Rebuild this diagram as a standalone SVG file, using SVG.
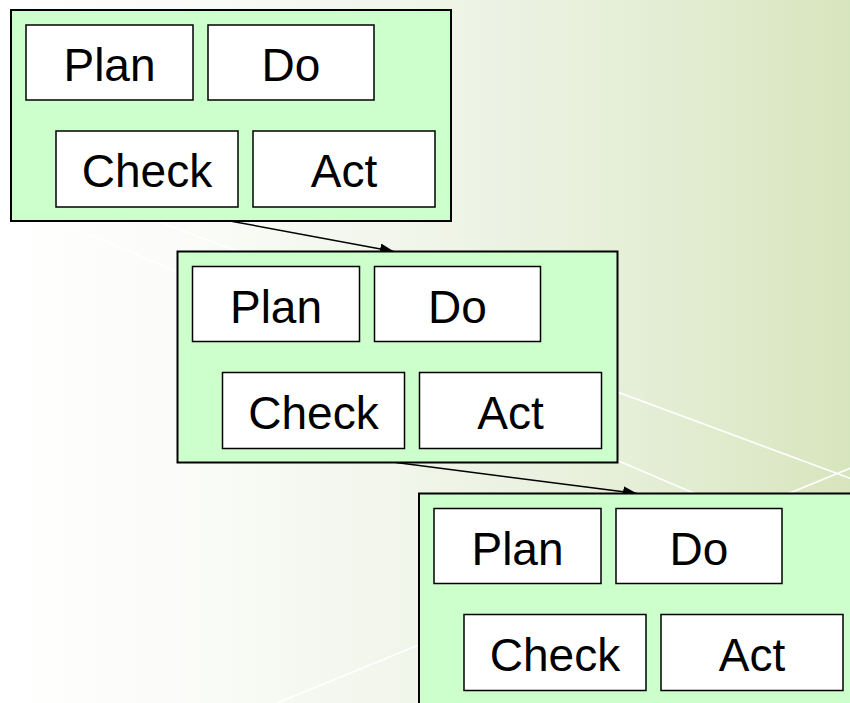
<svg xmlns="http://www.w3.org/2000/svg" width="850" height="703" viewBox="0 0 850 703">
  <defs>
    <linearGradient id="bg" x1="0" y1="0" x2="1" y2="0">
      <stop offset="0" stop-color="#ffffff"/>
      <stop offset="0.2" stop-color="#fbfcf9"/>
      <stop offset="0.45" stop-color="#f2f6ec"/>
      <stop offset="0.65" stop-color="#eaf1df"/>
      <stop offset="0.85" stop-color="#e0ebcd"/>
      <stop offset="1" stop-color="#d7e5bd"/>
    </linearGradient>
    <marker id="arrowhead" markerUnits="userSpaceOnUse" markerWidth="15" markerHeight="11" refX="14" refY="5.5" orient="auto">
      <path d="M0,0 L14,5.5 L0,11 z" fill="#000"/>
    </marker>
    <style>
      .cycle { fill: #ccffcc; stroke: #000; stroke-width: 2; }
      .step { fill: #ffffff; stroke: #000; stroke-width: 1.5; }
      .label { font-family: "Liberation Sans", Arial, sans-serif; font-size: 46px; fill: #000; text-anchor: middle; }
      .deco { stroke: #ffffff; stroke-width: 1.6; fill: none; }
      .link { stroke: #000; stroke-width: 1.5; fill: none; marker-end: url(#arrowhead); }
    </style>
    <!-- one PDCA cycle: outer panel with four step boxes -->
    <g id="pdca">
      <rect class="cycle" x="0" y="0" width="440" height="211"/>
      <g class="plan">
        <rect class="step" x="15" y="15" width="167" height="75"/>
        <text class="label" x="98.5" y="71">Plan</text>
      </g>
      <g class="do">
        <rect class="step" x="197" y="15" width="166" height="75"/>
        <text class="label" x="280" y="71">Do</text>
      </g>
      <g class="check">
        <rect class="step" x="45" y="121" width="182" height="76"/>
        <text class="label" x="136" y="177">Check</text>
      </g>
      <g class="act">
        <rect class="step" x="242" y="121" width="182" height="76"/>
        <text class="label" x="333" y="177">Act</text>
      </g>
    </g>
  </defs>

  <!-- background -->
  <rect x="0" y="0" width="850" height="703" fill="url(#bg)"/>
  <g id="background-lines">
    <line class="deco" x1="0" y1="163" x2="850" y2="478.3"/>
    <line class="deco" x1="0" y1="196" x2="850" y2="560"/>
    <line class="deco" x1="277" y1="703" x2="850" y2="468.3"/>
  </g>

  <!-- connectors between successive cycles -->
  <g id="connectors">
    <line class="link" x1="230" y1="221" x2="394" y2="251.5"/>
    <line class="link" x1="396" y1="462.5" x2="637" y2="493.5"/>
  </g>

  <!-- cycles -->
  <g id="cycle-1" transform="translate(11,10)">
    <use href="#pdca"/>
  </g>
  <g id="cycle-2" transform="translate(177.5,251.5)">
    <use href="#pdca"/>
  </g>
  <g id="cycle-3" transform="translate(419,493.5)">
    <use href="#pdca"/>
  </g>
</svg>
